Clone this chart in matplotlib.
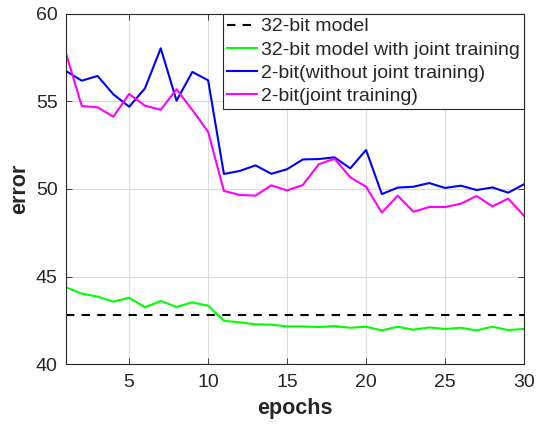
import matplotlib.pyplot as plt
import numpy as np

plt.rcParams['font.family'] = ['Liberation Sans', 'DejaVu Sans']
plt.rcParams['text.color'] = '#262626'
plt.rcParams['axes.labelcolor'] = '#262626'

epochs = np.arange(1, 31)

baseline_32bit = 42.8

joint_32bit = [44.38, 44.02, 43.85, 43.56, 43.79, 43.24, 43.60, 43.26, 43.52, 43.33,
               42.47, 42.38, 42.27, 42.25, 42.15, 42.15, 42.11, 42.17, 42.07, 42.13,
               41.92, 42.13, 41.96, 42.09, 42.00, 42.07, 41.92, 42.13, 41.94, 42.00]

no_joint_2bit = [56.74, 56.19, 56.46, 55.41, 54.70, 55.75, 58.04, 55.05, 56.69, 56.21,
                 50.86, 51.03, 51.35, 50.87, 51.13, 51.69, 51.71, 51.81, 51.18, 52.23,
                 49.71, 50.08, 50.13, 50.34, 50.06, 50.19, 49.94, 50.09, 49.79, 50.27]

joint_2bit = [57.75, 54.74, 54.67, 54.13, 55.43, 54.76, 54.53, 55.70, 54.51, 53.27,
              49.89, 49.66, 49.62, 50.21, 49.92, 50.23, 51.41, 51.73, 50.67, 50.13,
              48.65, 49.62, 48.70, 48.97, 48.97, 49.16, 49.60, 49.01, 49.45, 48.47]

fig = plt.figure(figsize=(5.48, 4.24), dpi=100)
ax = fig.add_axes([0.1204, 0.1415, 0.8358, 0.8255])

ax.plot([epochs[0], epochs[-1]], [baseline_32bit, baseline_32bit], '--', color='black',
        linewidth=1.5, dashes=(4, 3.5), label='32-bit model')
ax.plot(epochs, joint_32bit, color='#00ff00', linewidth=1.5,
        label='32-bit model with joint training')
ax.plot(epochs, no_joint_2bit, color='#0000ff', linewidth=1.5,
        label='2-bit(without joint training)')
ax.plot(epochs, joint_2bit, color='#ff00ff', linewidth=1.5,
        label='2-bit(joint training)')

ax.set_xlim(1, 30)
ax.set_ylim(40, 60)
ax.set_xticks([5, 10, 15, 20, 25, 30])
ax.set_yticks([40, 45, 50, 55, 60])
ax.grid(True, color='#dcdcdc', linewidth=0.8)
ax.tick_params(direction='in', top=True, right=True, labelsize=14, length=4, width=0.6,
               color='#262626', labelcolor='#262626')
ax.tick_params(axis='x', pad=7)
ax.tick_params(axis='y', pad=6)
for s in ax.spines.values():
    s.set_linewidth(0.8)
    s.set_color('#262626')

ax.set_xlabel('epochs', fontsize=15.5, fontweight='bold', labelpad=5)
ax.set_ylabel('error', fontsize=15.5, fontweight='bold', labelpad=4)

leg = ax.legend(loc='upper right', fontsize=14, borderaxespad=0, handlelength=1.55,
                handletextpad=0.2, labelspacing=0.28, borderpad=0.2,
                fancybox=False, framealpha=1)
leg.get_frame().set_edgecolor('#262626')
leg.get_frame().set_linewidth(0.8)

fig.savefig('out.png', dpi=100)
